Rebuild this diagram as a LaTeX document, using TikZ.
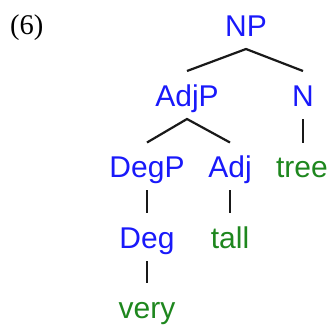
\documentclass[tikz,border=0pt]{standalone}
\usepackage{fontspec}
\setmainfont{Liberation Serif}
\newfontfamily\treefont{Liberation Sans}
\definecolor{catblue}{RGB}{25,25,250}
\definecolor{wordgreen}{RGB}{30,135,30}
\begin{document}
\begin{tikzpicture}[x=1pt,y=-1pt,
  lbl/.style={anchor=base, inner sep=0pt, font=\treefont\fontsize{30}{36}\selectfont},
  cat/.style={lbl, text=catblue},
  word/.style={lbl, text=wordgreen},
  branch/.style={draw=black!90, line width=2.2pt}]
\useasboundingbox (0,0) rectangle (331,325);
\node[anchor=base west, inner sep=0pt, font=\fontsize{28.5}{34}\selectfont] (ex) at (10,34) {(6)};
\node[cat] (NP) at (246,36.5) {NP};
\node[cat] (AdjP) at (187,106.5) {AdjP};
\node[cat] (N) at (303,106.5) {N};
\node[cat] (DegP) at (147,177.5) {DegP};
\node[cat] (Adj) at (230,177.5) {Adj};
\node[word] (tree) at (302,177.5) {tree};
\node[cat] (Deg) at (147,248.5) {Deg};
\node[word] (tall) at (230,248.5) {tall};
\node[word] (very) at (147,318) {very};
\draw[branch] ([yshift=35.5]AdjP.base) -- ([yshift=-12.5]NP.base) -- ([yshift=35.5]N.base);
\draw[branch] ([yshift=35]DegP.base) -- ([yshift=-12.5]AdjP.base) -- ([yshift=35]Adj.base);
\draw[branch] ([yshift=-12.5]N.base) -- ([yshift=35]tree.base -| N.base);
\draw[branch] ([yshift=-12.5]DegP.base) -- ([yshift=35.5]Deg.base);
\draw[branch] ([yshift=-12.5]Adj.base) -- ([yshift=35.5]tall.base);
\draw[branch] ([yshift=-12.5]Deg.base) -- ([yshift=35]very.base);
\end{tikzpicture}
\end{document}
